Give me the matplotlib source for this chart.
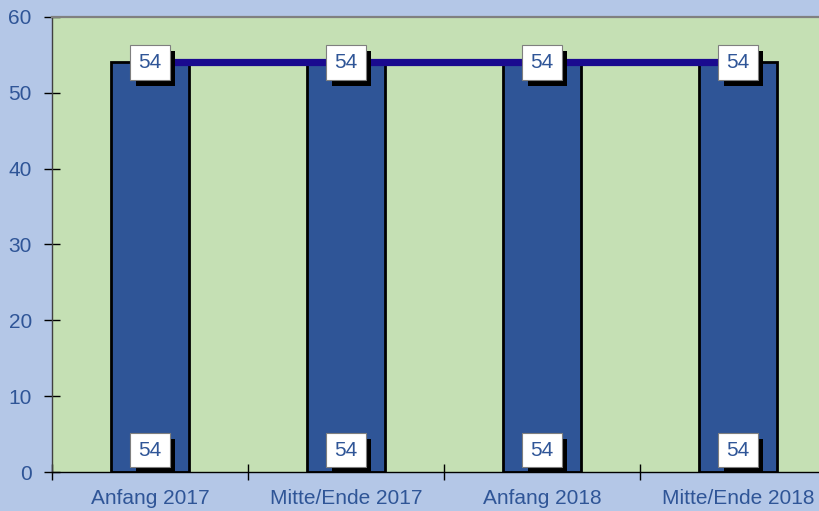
import numpy as np
import matplotlib
matplotlib.use("Agg")
import matplotlib.pyplot as plt
import matplotlib.patheffects as pe

# data
categories = ["Anfang 2017", "Mitte/Ende 2017", "Anfang 2018", "Mitte/Ende 2018"]
bar_values = [54, 54, 54, 54]
line_values = [54, 54, 54, 54]

plt.rcParams["font.family"] = ["Liberation Sans", "DejaVu Sans"]
text_blue = "#2F5597"

fig = plt.figure(figsize=(8.19, 5.11), dpi=100, facecolor="#B4C7E7")
# plot area runs off the right edge like in the original export
ax = fig.add_axes([52 / 819, 39 / 511, 784 / 819, 455 / 511])
ax.set_facecolor("#C5E0B4")

x = np.arange(len(categories)) + 0.5
ax.bar(x, bar_values, width=0.4, color="#2F5597", edgecolor="black", linewidth=2, zorder=2)
ax.plot(x, line_values, color="#1A0A8F", linewidth=5.2, solid_capstyle="butt", zorder=3)

shadow = [pe.SimplePatchShadow(offset=(3.8, -4.3), shadow_rgbFace="black", alpha=1.0), pe.Normal()]

def label(xv, yv, txt, dy):
    t = ax.annotate(txt, (xv, yv), xytext=(0, dy), textcoords="offset pixels",
                    ha="center", va="center", fontsize=15, color=text_blue, zorder=5,
                    bbox=dict(boxstyle="square,pad=0.38", fc="white", ec="#7F7F7F", lw=0.8))
    t.get_bbox_patch().set_path_effects(shadow)

for xv, lv, bv in zip(x, line_values, bar_values):
    label(xv, lv, "%d" % lv, 0)
    label(xv, 0, "%d" % bv, 22)

ax.set_xlim(0, len(categories))
ax.set_ylim(0, 60)
ax.set_yticks(range(0, 61, 10))
ax.set_xticks(np.arange(len(categories) + 1))
ax.set_xticks(x, categories, minor=True)
ax.set_xticklabels([])
ax.tick_params(axis="x", which="major", direction="inout", length=12, width=1, color="black")
ax.tick_params(axis="x", which="minor", length=0, pad=12, labelsize=15, labelcolor=text_blue)
ax.tick_params(axis="y", direction="inout", length=12, width=1, color="black",
               pad=8.5, labelsize=15, labelcolor=text_blue)

ax.spines["top"].set_color("#808080")
ax.spines["top"].set_linewidth(1.6)
ax.spines["left"].set_color("#404040")
ax.spines["left"].set_linewidth(1.0)
ax.spines["bottom"].set_color("black")
ax.spines["bottom"].set_linewidth(1.0)
ax.spines["right"].set_visible(False)

fig.savefig("out.png", dpi=100, facecolor=fig.get_facecolor())
